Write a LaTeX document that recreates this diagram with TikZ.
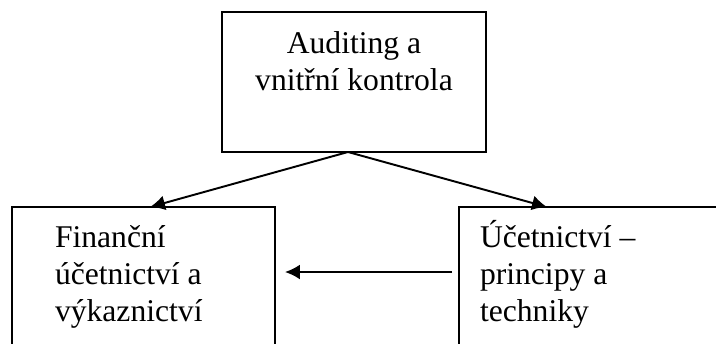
\documentclass[tikz,border=0pt]{standalone}
\usepackage{fontspec}
\setmainfont{Liberation Serif}
\usetikzlibrary{arrows.meta}
\begin{document}
\begin{tikzpicture}[x=0.02cm,y=-0.02cm,inner sep=0pt,outer sep=0pt,line width=1.1pt,
>={Latex[length=3mm,width=3mm]},
box/.style={draw,rectangle,minimum width=5.26cm,minimum height=3.06cm},
boxtext/.style={font=\fontsize{18}{21}\selectfont,align=left,anchor=base west}]
\clip (0,0) rectangle (716,343);
\draw (354,82) node[box,minimum width=5.28cm,minimum height=2.8cm] (audit) {};
\draw (143.5,283.5) node[box] (fin) {};
\draw (590.5,283.5) node[box] (ucet) {};

% anchor base = baseline of the last line
\draw (354,90) node[boxtext,align=center,anchor=base] (audittext) {Auditing a\\vnitřní kontrola};
\draw (55,321) node[boxtext] (fintext) {Finanční\\účetnictví a\\výkaznictví};
\draw (480,321) node[boxtext] (ucettext) {Účetnictví –\\principy a\\techniky};

\draw[->] ([xshift=-0.12cm]audit.south) -- ([xshift=0.13cm]fin.north);
\draw[->] ([xshift=-0.12cm]audit.south) -- ([xshift=1.76cm]ucet.north west);
\draw[->] ([shift={(-7,-11.5)}]ucet.west) -- ([shift={(10,-11.5)}]fin.east);
\end{tikzpicture}
\end{document}
